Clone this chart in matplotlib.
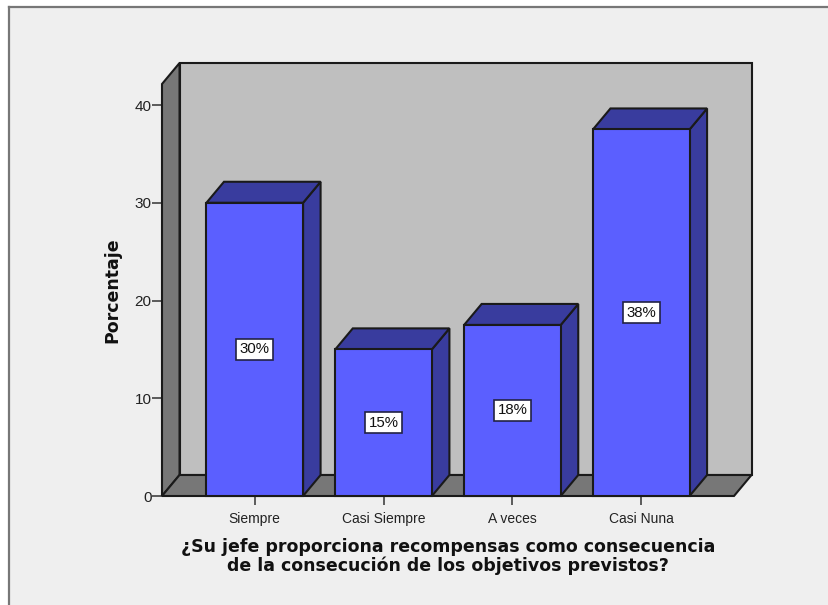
import matplotlib
matplotlib.use("Agg")
import matplotlib.pyplot as plt
from matplotlib.patches import Polygon, Rectangle
from matplotlib.lines import Line2D

categories = ["Siempre", "Casi Siempre", "A veces", "Casi Nuna"]
percentages = [30.0, 15.0, 17.5, 37.5]
y_ticks = [0, 10, 20, 30, 40]
x_title = "¿Su jefe proporciona recompensas como consecuencia\nde la consecución de los objetivos previstos?"
y_title = "Porcentaje"

W, H = 829, 605
PANEL = "#EFEFEF"
WALL = "#BFBFBF"
SIDE = "#777777"
FRONT = "#5B5FFF"
SHADE = "#393C9E"
EDGE = "#1A1A1A"

plt.rcParams["font.family"] = ["Liberation Sans", "DejaVu Sans"]

fig = plt.figure(figsize=(W / 100, H / 100), dpi=100, facecolor="white")

# Chart panel with only its top and left borders inside the canvas
bg = fig.add_axes([0, 0, 1, 1], zorder=0)
bg.set_xlim(0, W)
bg.set_ylim(H, 0)
bg.axis("off")
bg.add_patch(Rectangle((9, 7), W, H, facecolor=PANEL, edgecolor="none"))
bg.add_line(Line2D([9, 9], [H, 7], color="#777777", lw=1.6))
bg.add_line(Line2D([9, W], [7, 7], color="#777777", lw=1.6))

# Front plane of the 3D box
left, right, bottom, top = 162, 734, 496, 84
ax = fig.add_axes([left / W, 1 - bottom / H, (right - left) / W, (bottom - top) / H], zorder=1)
ax.set_xlim(-0.72, 3.72)
ax.set_ylim(0, 42.15)
ax.patch.set_alpha(0)
for s in ax.spines.values():
    s.set_visible(False)

x0, x1 = ax.get_xlim()
y0, y1 = ax.get_ylim()
dx = 17.5 / 128.7
dy = 21 / 9.775
bar_width = 0.75
lw = 1.5


def face(points, color, z):
    ax.add_patch(Polygon(points, closed=True, facecolor=color, edgecolor=EDGE,
                         lw=lw, joinstyle="miter", clip_on=False, zorder=z))


# Back wall, left wall and floor
face([(x0 + dx, y0 + dy), (x1 + dx, y0 + dy), (x1 + dx, y1 + dy), (x0 + dx, y1 + dy)], WALL, 1)
face([(x0, y0), (x0 + dx, y0 + dy), (x0 + dx, y1 + dy), (x0, y1)], SIDE, 2)
face([(x0, y0), (x1, y0), (x1 + dx, y0 + dy), (x0 + dx, y0 + dy)], SIDE, 2)

# Extruded bars with centred percentage tags
for i, v in enumerate(percentages):
    a, b = i - bar_width / 2, i + bar_width / 2
    face([(b, 0), (b + dx, dy), (b + dx, v + dy), (b, v)], SHADE, 3 + i)
    face([(a, v), (b, v), (b + dx, v + dy), (a + dx, v + dy)], SHADE, 3 + i)
    face([(a, 0), (b, 0), (b, v), (a, v)], FRONT, 3 + i)
    ax.text(i, v / 2, f"{v:.0f}%", ha="center", va="center", fontsize=10.8, color="#111111",
            zorder=10,
            bbox=dict(boxstyle="square,pad=0.24", facecolor="white", edgecolor="#222244", lw=1.2))

ax.set_xticks(range(len(categories)), categories)
ax.set_yticks(y_ticks)
ax.tick_params(axis="x", length=6.5, width=1.1, color="#333333", labelsize=10,
               labelcolor="#222222", pad=5)
ax.tick_params(axis="y", length=7, width=1.1, color="#333333", labelsize=11,
               labelcolor="#222222", pad=0.5)

ax.set_xlabel(x_title, fontsize=12.5, fontweight="bold", family="DejaVu Sans",
              color="#111111", linespacing=1.02, labelpad=9)
ax.set_ylabel(y_title, fontsize=12.5, fontweight="bold", family="DejaVu Sans",
              color="#111111", labelpad=9.5)

fig.savefig("out.png", dpi=100, facecolor="white")
